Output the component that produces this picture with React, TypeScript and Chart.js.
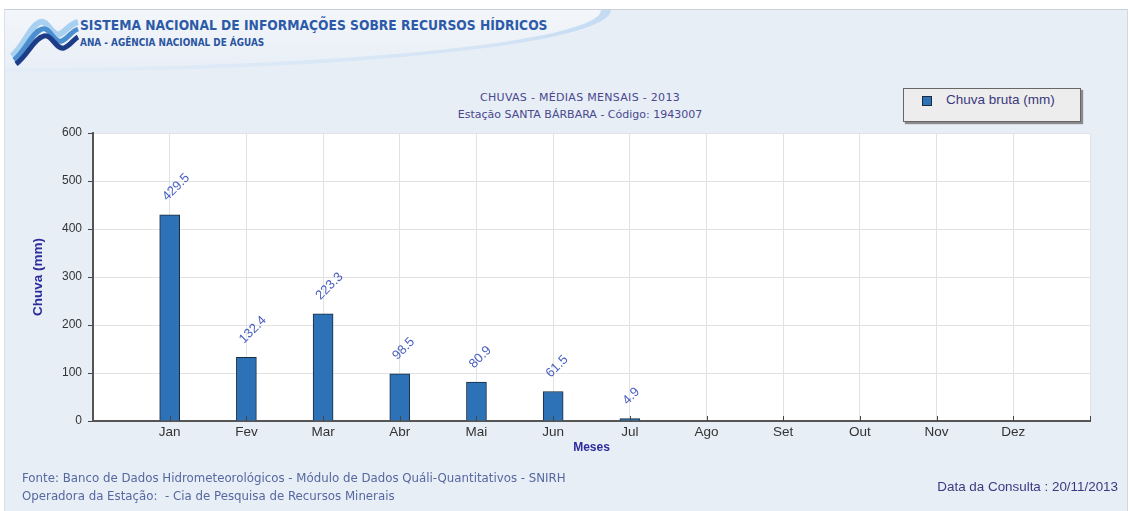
import React, { useEffect, useRef } from "react";
import { Chart, registerables } from "chart.js";

Chart.register(...registerables);

const months = ["Jan", "Fev", "Mar", "Abr", "Mai", "Jun", "Jul", "Ago", "Set", "Out", "Nov", "Dez"];
const rainfall: (number | null)[] = [429.5, 132.4, 223.3, 98.5, 80.9, 61.5, 4.9, null, null, null, null, null];
const yTicks = [0, 100, 200, 300, 400, 500, 600];
const seriesLabel = "Chuva bruta (mm)";
const chartTitle = "CHUVAS - MÉDIAS MENSAIS - 2013";
const chartSubtitle = "Estação SANTA BÁRBARA - Código: 1943007";

const plotBg = {
  id: "plotBg",
  beforeDraw(chart: any) {
    const { ctx, chartArea: a } = chart;
    ctx.save();
    ctx.fillStyle = "#ffffff";
    ctx.fillRect(a.left, a.top, a.right - a.left, a.bottom - a.top);
    ctx.restore();
  },
};

const innerTicks = {
  id: "innerTicks",
  afterDatasetsDraw(chart: any) {
    const { ctx, chartArea: a } = chart;
    const xs = chart.scales.x;
    ctx.save();
    ctx.strokeStyle = "#444";
    ctx.lineWidth = 1;
    for (let v = 1; v <= months.length + 1; v++) {
      const px = Math.round(xs.getPixelForValue(v)) + 0.5;
      ctx.beginPath();
      ctx.moveTo(px, a.bottom - 5);
      ctx.lineTo(px, a.bottom);
      ctx.stroke();
    }
    ctx.restore();
  },
};

const valueLabels = {
  id: "valueLabels",
  afterDatasetsDraw(chart: any) {
    const { ctx } = chart;
    const meta = chart.getDatasetMeta(0);
    const ds = chart.data.datasets[0].data as any[];
    ctx.save();
    ctx.font = "13px 'Liberation Sans', Arial, sans-serif";
    ctx.fillStyle = "#4a60c0";
    ctx.textAlign = "left";
    ctx.textBaseline = "middle";
    meta.data.forEach((bar: any, i: number) => {
      const v = ds[i]?.y;
      if (v == null) return;
      ctx.save();
      ctx.translate(bar.x - 5, bar.y - 16);
      ctx.rotate(-Math.PI / 4);
      ctx.fillText(v.toFixed(1), 0, 0);
      ctx.restore();
    });
    ctx.restore();
  },
};

export default function App() {
  const ref = useRef<HTMLCanvasElement>(null);

  useEffect(() => {
    if (!ref.current) return;
    const points = months
      .map((_, i) => ({ x: i + 1, y: rainfall[i] }))
      .filter((p) => p.y != null);
    const chart = new Chart(ref.current, {
      type: "bar",
      data: {
        datasets: [
          {
            label: seriesLabel,
            data: points as any,
            backgroundColor: "#2d72b6",
            borderColor: "#1b2a3e",
            borderWidth: 1,
            barThickness: 20,
          },
        ],
      },
      options: {
        animation: false,
        responsive: false,
        layout: { padding: { left: 30, top: 133, right: 40, bottom: 56 } },
        plugins: {
          legend: { display: false },
          tooltip: { enabled: false },
        },
        scales: {
          x: {
            type: "linear",
            min: 0,
            max: months.length + 1,
            offset: false,
            afterFit: (s: any) => {
              s.height = 34;
            },
            afterBuildTicks: (s: any) => {
              s.ticks = Array.from({ length: months.length + 2 }, (_, i) => ({ value: i }));
            },
            ticks: {
              autoSkip: false,
              maxRotation: 0,
              padding: 3,
              color: "#333",
              font: { family: "'Liberation Sans', Arial, sans-serif", size: 13.5 },
              callback: (v: any) => months[Number(v) - 1] ?? "",
            },
            grid: { color: "#e2e2e2", drawTicks: false, offset: false },
            border: { display: true, color: "#555", width: 2 },
            title: {
              display: true,
              text: "Meses",
              color: "#2c2c9c",
              padding: 0,
              font: { family: "'Liberation Sans', Arial, sans-serif", size: 12, weight: "bold" },
            },
          },
          y: {
            min: 0,
            max: 600,
            afterFit: (s: any) => {
              s.width = 63;
            },
            afterBuildTicks: (s: any) => {
              s.ticks = yTicks.map((v) => ({ value: v }));
            },
            ticks: {
              padding: 6,
              color: "#333",
              font: { family: "'Liberation Sans', Arial, sans-serif", size: 12 },
            },
            grid: { color: "#e2e2e2", tickColor: "#444", tickLength: 5 },
            border: { display: true, color: "#555", width: 2 },
            title: {
              display: true,
              text: "Chuva (mm)",
              color: "#2c2c9c",
              padding: { top: 0, bottom: 0 },
              font: { family: "'Liberation Sans', Arial, sans-serif", size: 13.5, weight: "bold" },
            },
          },
        },
      },
      plugins: [plotBg, innerTicks, valueLabels],
    });
    return () => chart.destroy();
  }, []);

  const cond = "'DejaVu Sans Condensed', 'DejaVu Sans', sans-serif";
  const dv = "'DejaVu Sans', sans-serif";

  return (
    <div
      style={{
        position: "absolute",
        left: 0,
        top: 0,
        width: 1130,
        height: 511,
        background: "#ffffff",
        overflow: "hidden",
        fontFamily: "'Liberation Sans', Arial, sans-serif",
      }}
    >
      <div
        style={{
          position: "absolute",
          left: 4,
          top: 9,
          width: 1122,
          height: 502,
          background: "#e8eef6",
          borderTop: "1px solid #c8d0da",
          borderLeft: "1px solid #d8e0ea",
          borderRight: "1px solid #cfd8e4",
        }}
      />
      <div
        style={{
          position: "absolute",
          left: 5,
          top: 10,
          width: 606,
          height: 62,
          background: "linear-gradient(to right, #e4edf7 0%, #d4e4f5 80%, #c3dbf2 100%)",
          borderBottomRightRadius: "600px 62px",
        }}
      />
      <div
        style={{
          position: "absolute",
          left: 5,
          top: 10,
          width: 596,
          height: 58,
          background: "linear-gradient(to bottom, #f3f6fa, #e9eff7)",
          borderBottomRightRadius: "590px 58px",
        }}
      />
      <svg style={{ position: "absolute", left: 8, top: 12 }} width="72" height="54" viewBox="0 0 72 54">
        <path d="M4 44 C 16 34, 22 14, 32 10 C 40 7, 44 26, 52 22 C 58 19, 62 12, 70 10" stroke="#a8d0f0" strokeWidth="6" fill="none" />
        <path d="M6 48 C 18 38, 24 20, 34 17 C 42 14, 46 32, 54 29 C 60 26, 64 19, 70 17" stroke="#4b8fd0" strokeWidth="5" fill="none" />
        <path d="M8 52 C 20 43, 26 26, 36 24 C 44 22, 48 38, 56 36 C 62 34, 66 27, 70 25" stroke="#1d3c88" strokeWidth="5" fill="none" />
      </svg>
      <div
        style={{
          position: "absolute",
          left: 80,
          top: 17,
          fontFamily: cond,
          fontStretch: "condensed",
          fontWeight: "bold",
          fontSize: 13.7,
          color: "#2d5aa8",
          whiteSpace: "nowrap",
        }}
      >
        SISTEMA NACIONAL DE INFORMAÇÕES SOBRE RECURSOS HÍDRICOS
      </div>
      <div
        style={{
          position: "absolute",
          left: 80,
          top: 37,
          fontFamily: cond,
          fontStretch: "condensed",
          fontWeight: "bold",
          fontSize: 9.9,
          color: "#2a55a0",
          whiteSpace: "nowrap",
        }}
      >
        ANA - AGÊNCIA NACIONAL DE ÁGUAS
      </div>
      <div
        style={{
          position: "absolute",
          left: 380,
          width: 400,
          top: 89,
          textAlign: "center",
          fontFamily: dv,
          fontSize: 11,
          lineHeight: "17px",
          color: "#48488e",
          whiteSpace: "nowrap",
        }}
      >
        <div style={{ letterSpacing: 0.3 }}>{chartTitle}</div>
        <div>{chartSubtitle}</div>
      </div>
      <div
        style={{
          position: "absolute",
          left: 903,
          top: 88,
          width: 176,
          height: 32,
          background: "#ededed",
          border: "1px solid #666",
          boxShadow: "2px 2px 1px #8a8a8a",
        }}
      >
        <div
          style={{
            position: "absolute",
            left: 18,
            top: 7,
            width: 8,
            height: 8,
            background: "#2d72b6",
            border: "1px solid #1b2a3e",
          }}
        />
        <div
          style={{
            position: "absolute",
            left: 42,
            top: 3,
            fontSize: 13.5,
            color: "#3a3a7e",
            whiteSpace: "nowrap",
          }}
        >
          {seriesLabel}
        </div>
      </div>
      <canvas ref={ref} width={1130} height={511} style={{ position: "absolute", left: 0, top: 0 }} />
      <div
        style={{
          position: "absolute",
          left: 22,
          top: 469,
          fontFamily: dv,
          fontSize: 11.8,
          lineHeight: "18px",
          color: "#5668a0",
          whiteSpace: "nowrap",
        }}
      >
        <div>Fonte: Banco de Dados Hidrometeorológicos - Módulo de Dados Quáli-Quantitativos - SNIRH</div>
        <div>Operadora da Estação:&nbsp; - Cia de Pesquisa de Recursos Minerais</div>
      </div>
      <div
        style={{
          position: "absolute",
          right: 12,
          top: 479,
          fontSize: 13.4,
          color: "#3a3a80",
          whiteSpace: "nowrap",
        }}
      >
        Data da Consulta : 20/11/2013
      </div>
    </div>
  );
}
